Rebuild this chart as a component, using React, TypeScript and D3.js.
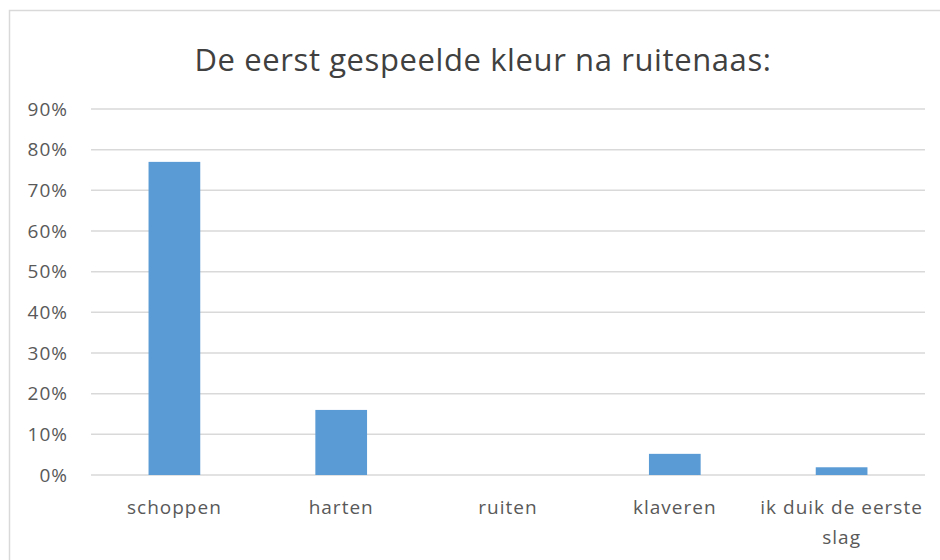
import { useEffect, useRef } from 'react';
import * as d3 from 'd3';

const categories = ['schoppen', 'harten', 'ruiten', 'klaveren', 'ik duik de eerste slag'];
const values = [0.77, 0.16, 0, 0.052, 0.019];
const yTicks = [0, 0.1, 0.2, 0.3, 0.4, 0.5, 0.6, 0.7, 0.8, 0.9];
const title = 'De eerst gespeelde kleur na ruitenaas:';

const W = 940;
const H = 560;
const FONT = '"Open Sans", Lato, sans-serif';

const App = () => {
  const svgRef = useRef<SVGSVGElement>(null);

  useEffect(() => {
    const svg = d3.select(svgRef.current);
    svg.selectAll('*').remove();

    // chart frame
    svg
      .append('rect')
      .attr('x', 9.5)
      .attr('y', 10.5)
      .attr('width', 940)
      .attr('height', 600)
      .attr('fill', '#fff')
      .attr('stroke', '#d9d9d9')
      .attr('stroke-width', 1.5);

    svg
      .append('text')
      .attr('x', 483)
      .attr('y', 71)
      .attr('text-anchor', 'middle')
      .attr('font-family', FONT)
      .attr('font-size', 31)
      .attr('letter-spacing', 0.6)
      .attr('fill', '#404040')
      .text(title);

    const x = d3.scaleBand().domain(categories).range([91, 925]).padding(0);
    const y = d3.scaleLinear().domain([0, 0.9]).range([475, 109]);

    svg
      .append('g')
      .selectAll('line')
      .data(yTicks)
      .join('line')
      .attr('x1', 91)
      .attr('x2', 925)
      .attr('y1', (d) => y(d))
      .attr('y2', (d) => y(d))
      .attr('stroke', '#d9d9d9')
      .attr('stroke-width', 1.5);

    svg
      .append('g')
      .selectAll('text')
      .data(yTicks)
      .join('text')
      .attr('x', 68)
      .attr('y', (d) => y(d))
      .attr('dy', '0.35em')
      .attr('text-anchor', 'end')
      .attr('font-family', FONT)
      .attr('font-size', 19)
      .attr('letter-spacing', 1)
      .attr('fill', '#595959')
      .text((d) => d3.format('.0%')(d));

    const barW = x.bandwidth() * 0.31;
    svg
      .append('g')
      .selectAll('rect')
      .data(values)
      .join('rect')
      .attr('x', (_, i) => x(categories[i])! + x.bandwidth() / 2 - barW / 2)
      .attr('y', (d) => y(d))
      .attr('width', barW)
      .attr('height', (d) => y(0) - y(d))
      .attr('fill', '#5b9bd5');

    const labels = svg
      .append('g')
      .selectAll('text')
      .data(categories)
      .join('text')
      .attr('x', (d) => x(d)! + x.bandwidth() / 2)
      .attr('y', 514)
      .attr('text-anchor', 'middle')
      .attr('font-family', FONT)
      .attr('font-size', 19)
      .attr('letter-spacing', 1)
      .attr('fill', '#595959');

    labels.each(function (d) {
      const t = d3.select(this);
      const lines = d === 'ik duik de eerste slag' ? ['ik duik de eerste', 'slag'] : [d];
      lines.forEach((l, i) => {
        t.append('tspan')
          .attr('x', x(d)! + x.bandwidth() / 2)
          .attr('dy', i === 0 ? 0 : 30)
          .text(l);
      });
    });
  }, []);

  return (
    <svg width={W} height={H} ref={svgRef} style={{ position: 'absolute', left: 0, top: 0 }}>
      {/* chart */}
    </svg>
  );
};

export default App;
